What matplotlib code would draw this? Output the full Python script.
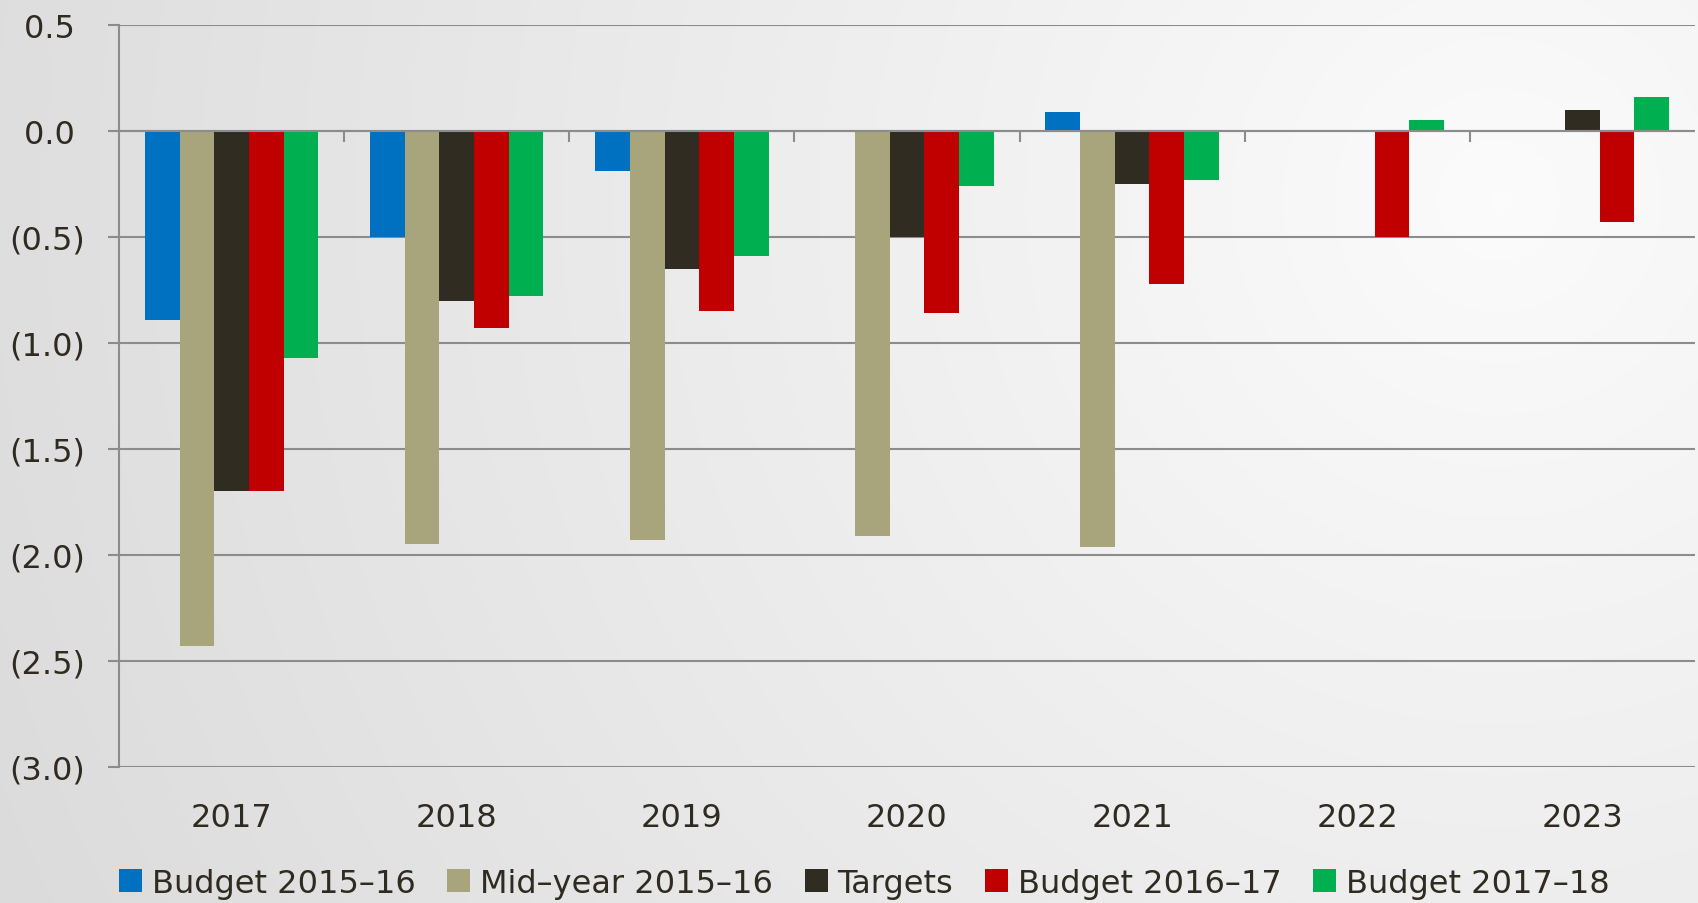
import matplotlib.pyplot as plt
import numpy as np

years = ['2017', '2018', '2019', '2020', '2021', '2022', '2023']
series = ['Budget 2015\u201316', 'Mid\u2013year 2015\u201316', 'Targets',
          'Budget 2016\u201317', 'Budget 2017\u201318']
budget_1516 = [-0.89, -0.50, -0.19, np.nan, 0.09, np.nan, np.nan]
midyear_1516 = [-2.43, -1.95, -1.93, -1.91, -1.96, np.nan, np.nan]
targets = [-1.70, -0.80, -0.65, -0.50, -0.25, np.nan, 0.10]
budget_1617 = [-1.70, -0.93, -0.85, -0.86, -0.72, -0.50, -0.43]
budget_1718 = [-1.07, -0.78, -0.59, -0.26, -0.23, 0.05, 0.16]
colors = ['#0070C0', '#A8A57C', '#312C21', '#C00000', '#00B050']

yticks = np.arange(-3.0, 0.51, 0.5)
text_col = '#2F2B20'
grid_col = '#8C8C8C'
fs = 23

plt.rcParams['font.family'] = ['DejaVu Sans']

W, H = 1698, 904
fig = plt.figure(figsize=(W / 100, H / 100), dpi=100)

# фон: світліше праворуч угорі, темніше до лівого краю
bg = fig.add_axes([0, 0, 1, 1], zorder=-10)
px, py = np.meshgrid(np.linspace(0, W, 340), np.linspace(0, H, 180))
dist = np.hypot(px - 1500, py - 200)
shade = np.clip(0.985 - dist * (30 / 1550) / 255, 0, 1)
bg.imshow(np.dstack([shade] * 3), aspect='auto', extent=[0, 1, 0, 1],
          interpolation='bicubic')
bg.axis('off')

ax = fig.add_axes([119 / W, 1 - 768 / H, 1576 / W, (768 - 26) / H])
ax.set_facecolor('none')

data = [budget_1516, midyear_1516, targets, budget_1617, budget_1718]
x = np.arange(len(years))
w = 0.154
for i, (vals, col, name) in enumerate(zip(data, colors, series)):
    ax.bar(x + (i - 2) * w, vals, w, color=col, label=name, zorder=3)

ax.set_xlim(-0.5, len(years) - 0.5)
ax.set_ylim(-3.0, 0.5)
ax.set_yticks(yticks)
ax.set_yticklabels([f'{v:.1f} ' if v >= 0 else f'({abs(v):.1f})' for v in yticks])
ax.set_xticks(x)
ax.set_xticklabels(years)

ax.grid(axis='y', color=grid_col, linewidth=1.5, zorder=0)
ax.axhline(0, color=grid_col, linewidth=1.5, zorder=4)
ax.vlines(x[1:] - 0.5, -0.052, 0, color=grid_col, linewidth=1.5, zorder=4)

for s in ['top', 'right', 'bottom']:
    ax.spines[s].set_visible(False)
ax.spines['left'].set_color(grid_col)
ax.spines['left'].set_linewidth(1.5)

ax.tick_params(axis='y', length=8, width=1.5, color=grid_col, pad=16.5,
               labelsize=fs, labelcolor=text_col)
ax.tick_params(axis='x', length=0, pad=25, labelsize=fs, labelcolor=text_col)

leg = fig.legend(loc='center left', bbox_to_anchor=(119 / W, 0.022),
                 ncol=5, frameon=False, fontsize=fs, handlelength=0.72,
                 handleheight=0.75, handletextpad=0.3, columnspacing=1.0,
                 borderpad=0, borderaxespad=0)
for t in leg.get_texts():
    t.set_color(text_col)

plt.savefig('out.png', dpi=100)
